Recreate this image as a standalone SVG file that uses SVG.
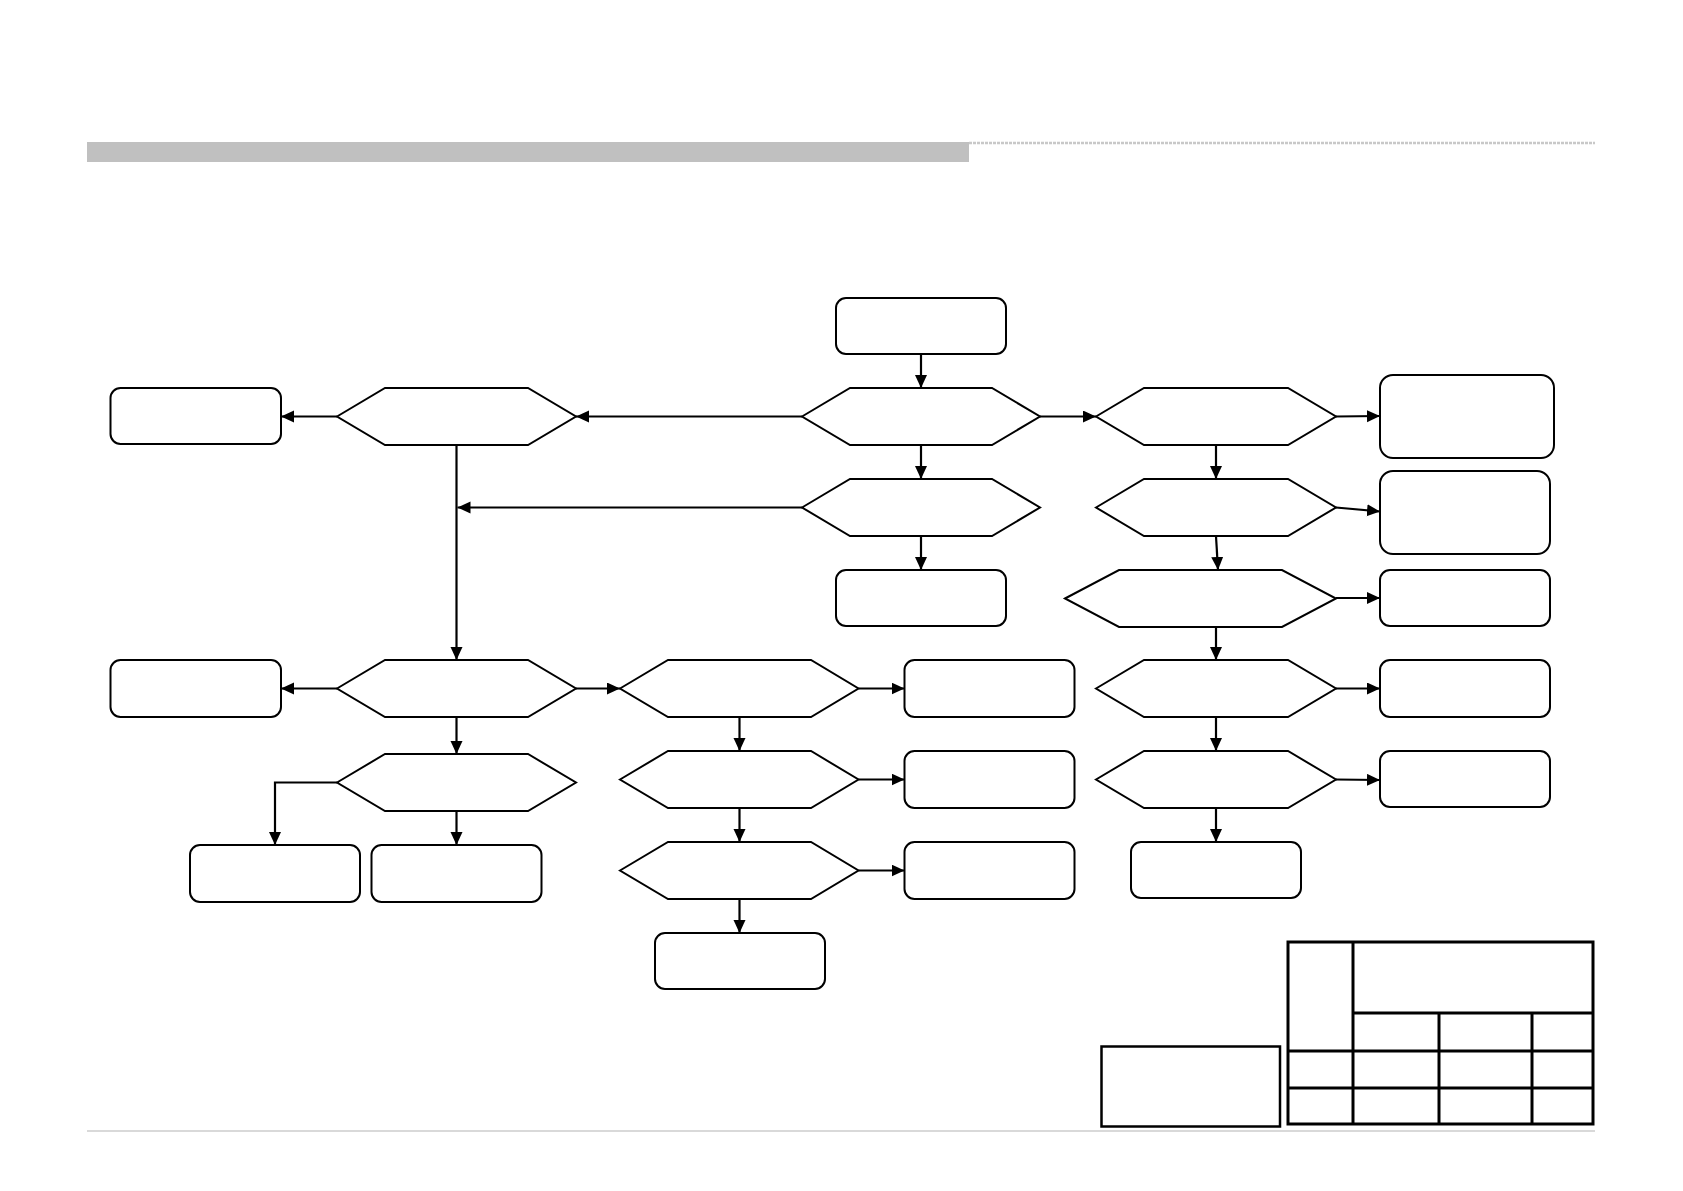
<svg xmlns="http://www.w3.org/2000/svg" width="1683" height="1191" viewBox="0 0 1683 1191">
<style>
.box{fill:#fff;stroke:#000;stroke-width:2}
.hex{fill:#fff;stroke:#000;stroke-width:2;stroke-linejoin:miter}
.con{fill:none;stroke:#000;stroke-width:2.2;marker-end:url(#arr)}
.tbl{fill:none;stroke:#000;stroke-width:3}
</style>
<defs>
<marker id="arr" markerUnits="userSpaceOnUse" markerWidth="14" markerHeight="13" refX="13" refY="6" orient="auto">
<path d="M0,0 L13,6 L0,12 z" fill="#000"/>
</marker>
</defs>
<rect x="0" y="0" width="1683" height="1191" fill="#fff"/>
<g id="header">
<rect x="87" y="142" width="882" height="20" fill="#c0c0c0"/>
<line x1="969" y1="143" x2="1595" y2="143" stroke="#c8c8c8" stroke-width="2.5" stroke-dasharray="3 1"/>
</g>
<g id="footer">
<line x1="87" y1="1131" x2="1595" y2="1131" stroke="#cccccc" stroke-width="1.5"/>
</g>
<g id="connectors">
<line class="con" x1="921" y1="354" x2="921" y2="388"/>
<line class="con" x1="802" y1="416.5" x2="576" y2="416.5"/>
<line class="con" x1="337" y1="416.5" x2="281" y2="416.5"/>
<line class="con" x1="1040" y1="416.5" x2="1096" y2="416.5"/>
<line class="con" x1="1336" y1="416.5" x2="1380" y2="416"/>
<line class="con" x1="921" y1="445" x2="921" y2="479"/>
<line class="con" x1="802" y1="507.5" x2="457.5" y2="507.5"/>
<line class="con" x1="456.5" y1="445" x2="456.5" y2="660"/>
<line class="con" x1="921" y1="536" x2="921" y2="570"/>
<line class="con" x1="1216" y1="445" x2="1216" y2="479"/>
<line class="con" x1="1336" y1="507.5" x2="1380" y2="511.5"/>
<line class="con" x1="1216" y1="536" x2="1218" y2="570"/>
<line class="con" x1="1336" y1="598" x2="1380" y2="598"/>
<line class="con" x1="1216" y1="627" x2="1216" y2="660"/>
<line class="con" x1="1336" y1="688.5" x2="1380" y2="688.5"/>
<line class="con" x1="1216" y1="717" x2="1216" y2="751"/>
<line class="con" x1="1336" y1="779.5" x2="1380" y2="780"/>
<line class="con" x1="1216" y1="808" x2="1216" y2="842"/>
<line class="con" x1="337" y1="688.5" x2="281" y2="688.5"/>
<line class="con" x1="576" y1="688.5" x2="620" y2="688.5"/>
<line class="con" x1="456.5" y1="717" x2="456.5" y2="754"/>
<polyline class="con" points="337,782.5 275,782.5 275,845"/>
<line class="con" x1="456.5" y1="811" x2="456.5" y2="845"/>
<line class="con" x1="858.5" y1="688.5" x2="904.5" y2="688.5"/>
<line class="con" x1="739.5" y1="717" x2="739.5" y2="751"/>
<line class="con" x1="858.5" y1="779.5" x2="904.5" y2="779.5"/>
<line class="con" x1="739.5" y1="808" x2="739.5" y2="842"/>
<line class="con" x1="858.5" y1="870.5" x2="904.5" y2="870.5"/>
<line class="con" x1="739.5" y1="899" x2="739.5" y2="933"/>
</g>
<g id="start"><rect class="box" x="836" y="298" width="170" height="56" rx="10"/></g>
<g id="d1"><polygon class="hex" points="802,416.5 850,388 992,388 1040,416.5 992,445 850,445"/></g>
<g id="d2"><polygon class="hex" points="802,507.5 850,479 992,479 1040,507.5 992,536 850,536"/></g>
<g id="d2box"><rect class="box" x="836" y="570" width="170" height="56" rx="10"/></g>
<g id="l1"><polygon class="hex" points="337,416.5 385,388 528,388 576,416.5 528,445 385,445"/></g>
<g id="left1"><rect class="box" x="110.5" y="388" width="170.5" height="56" rx="10"/></g>
<g id="l2"><polygon class="hex" points="337,688.5 385,660 528,660 576,688.5 528,717 385,717"/></g>
<g id="left2"><rect class="box" x="110.5" y="660" width="170.5" height="57" rx="10"/></g>
<g id="l3"><polygon class="hex" points="337,782.5 385,754 528,754 576,782.5 528,811 385,811"/></g>
<g id="l3a"><rect class="box" x="190" y="845" width="170" height="57" rx="10"/></g>
<g id="l3b"><rect class="box" x="371.5" y="845" width="170" height="57" rx="10"/></g>
<g id="m1"><polygon class="hex" points="620,688.5 668,660 811,660 858.5,688.5 811,717 668,717"/></g>
<g id="m1box"><rect class="box" x="904.5" y="660" width="170" height="57" rx="10"/></g>
<g id="m2"><polygon class="hex" points="620,779.5 668,751 811,751 858.5,779.5 811,808 668,808"/></g>
<g id="m2box"><rect class="box" x="904.5" y="751" width="170" height="57" rx="10"/></g>
<g id="m3"><polygon class="hex" points="620,870.5 668,842 811,842 858.5,870.5 811,899 668,899"/></g>
<g id="m3box"><rect class="box" x="904.5" y="842" width="170" height="57" rx="10"/></g>
<g id="m4box"><rect class="box" x="655" y="933" width="170" height="56" rx="10"/></g>
<g id="r1"><polygon class="hex" points="1096,416.5 1144,388 1288,388 1336,416.5 1288,445 1144,445"/></g>
<g id="r1box"><rect class="box" x="1380" y="375" width="174" height="83" rx="13"/></g>
<g id="r2"><polygon class="hex" points="1096,507.5 1144,479 1288,479 1336,507.5 1288,536 1144,536"/></g>
<g id="r2box"><rect class="box" x="1380" y="471" width="170" height="83" rx="13"/></g>
<g id="r3"><polygon class="hex" points="1065,598.5 1119,570 1282,570 1336,598.5 1282,627 1119,627"/></g>
<g id="r3box"><rect class="box" x="1380" y="570" width="170" height="56" rx="10"/></g>
<g id="r4"><polygon class="hex" points="1096,688.5 1144,660 1288,660 1336,688.5 1288,717 1144,717"/></g>
<g id="r4box"><rect class="box" x="1380" y="660" width="170" height="57" rx="10"/></g>
<g id="r5"><polygon class="hex" points="1096,779.5 1144,751 1288,751 1336,779.5 1288,808 1144,808"/></g>
<g id="r5box"><rect class="box" x="1380" y="751" width="170" height="56" rx="10"/></g>
<g id="r6box"><rect class="box" x="1131" y="842" width="170" height="56" rx="10"/></g>
<g id="notebox"><rect x="1101.5" y="1046.5" width="178.5" height="80" fill="#fff" stroke="#000" stroke-width="2.5"/></g>
<g id="table">
<rect class="tbl" x="1288" y="942" width="305" height="182"/>
<line class="tbl" x1="1353" y1="942" x2="1353" y2="1124"/>
<line class="tbl" x1="1353" y1="1013" x2="1593" y2="1013"/>
<line class="tbl" x1="1288" y1="1051" x2="1593" y2="1051"/>
<line class="tbl" x1="1288" y1="1088" x2="1593" y2="1088"/>
<line class="tbl" x1="1439" y1="1013" x2="1439" y2="1124"/>
<line class="tbl" x1="1532" y1="1013" x2="1532" y2="1124"/>
</g>
</svg>
